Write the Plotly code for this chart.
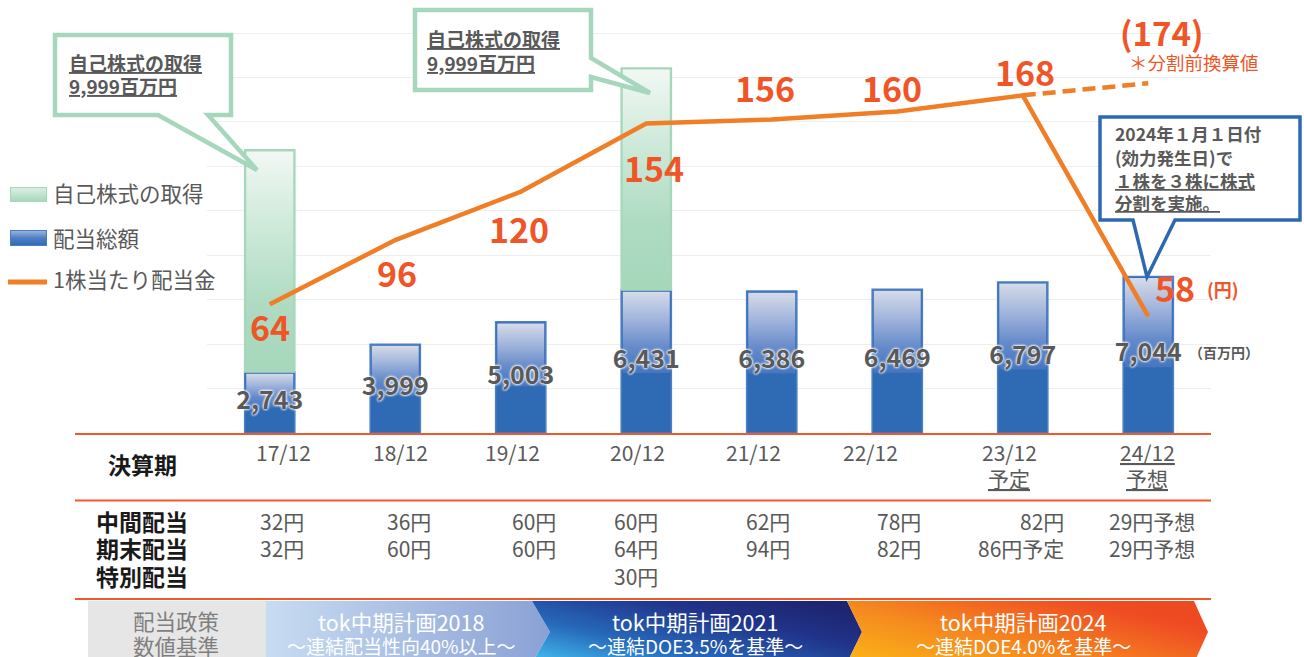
import base64
import plotly.graph_objects as go

W, H = 1304, 657
FONT = "Noto Sans CJK JP"

# ---------------- data ----------------
periods = ['17/12', '18/12', '19/12', '20/12', '21/12', '22/12', '23/12', '24/12']
period_notes = ['', '', '', '', '', '', '予定', '予想']
dividend_total = [2743, 3999, 5003, 6431, 6386, 6469, 6797, 7044]      # 百万円
buyback = [9999, 0, 0, 9999, 0, 0, 0, 0]                                 # 百万円
dps = [64, 96, 120, 154, 156, 160, 168, 58]                              # 円
dps_presplit_24 = 174                                                    # 円（分割前換算）
interim_div = ['32円', '36円', '60円', '60円', '62円', '78円', '82円', '29円予想']
yearend_div = ['32円', '60円', '60円', '64円', '94円', '82円', '86円予定', '29円予想']
special_div = ['', '', '', '30円', '', '', '', '']
legend_labels = ['自己株式の取得', '配当総額', '1株当たり配当金']
row_labels = ['決算期', '中間配当', '期末配当', '特別配当']
policy_label = ['配当政策', '数値基準']
plans = ['tok中期計画2018', 'tok中期計画2021', 'tok中期計画2024']
plan_targets = ['～連結配当性向40%以上～', '～連結DOE3.5%を基準～', '～連結DOE4.0%を基準～']
buyback_note = ['自己株式の取得', '9,999百万円']
split_note = ['2024年１月１日付', '(効力発生日)で', '１株を３株に株式', '分割を実施。']

# ---------------- layout helpers ----------------
def px(x):
    return x / W


def py(y):
    return 1 - y / H


PLOT_L, PLOT_R, PLOT_B = 207, 1211, 433
Y_MAX = PLOT_B / 44.44 * 2000
Y2_MAX = PLOT_B / 2.01
xs = list(range(len(periods)))
BAR_W = 0.4

GRAY = '#595959'
RED = '#f05528'
ORANGE = '#f07e26'
BLUE = '#2f6ab4'


def svg_uri(w, h, defs, body):
    svg = (f"<svg xmlns='http://www.w3.org/2000/svg' width='{w}' height='{h}' "
           f"viewBox='0 0 {w} {h}' preserveAspectRatio='none'><defs>{defs}</defs>{body}</svg>")
    return 'data:image/svg+xml;base64,' + base64.b64encode(svg.encode('utf-8')).decode()


def grad(gid, stops, x1=0, y1=0, x2=1, y2=0):
    s = ''.join(f"<stop offset='{o}' stop-color='{c}'/>" for o, c in stops)
    return f"<linearGradient id='{gid}' x1='{x1}' y1='{y1}' x2='{x2}' y2='{y2}'>{s}</linearGradient>"


def image(uri, x0, y0, x1, y1):
    return dict(source=uri, xref='paper', yref='paper', x=px(x0), y=py(y0),
                sizex=(x1 - x0) / W, sizey=(y1 - y0) / H, xanchor='left', yanchor='top',
                sizing='stretch', layer='above')


def poly(points):
    return 'M ' + ' L '.join(f'{px(x):.5f},{py(y):.5f}' for x, y in points) + ' Z'


fig = go.Figure()

# ---------------- bars ----------------
fig.add_trace(go.Bar(
    x=xs, y=dividend_total, width=BAR_W,
    marker=dict(color=BLUE, line=dict(color='#4c7fc6', width=1.5)),
    hoverinfo='skip', showlegend=False))

bb_x = [i for i, v in enumerate(buyback) if v]
fig.add_trace(go.Bar(
    x=bb_x, y=[buyback[i] for i in bb_x], base=[dividend_total[i] for i in bb_x], width=BAR_W,
    marker=dict(color='#a6d7bb', line=dict(color='#a6d7bb', width=1.5)),
    hoverinfo='skip', showlegend=False))

# gradient overlays (shading of the bars)
dx = 1.6 / 125.5
dy = 1.6 * 2000 / 44.44
blue_cs = [[0, '#4676be'], [0.3, '#6389c9'], [0.65, '#9fb3db'], [1, '#d5dbe8']]
green_cs = [[0, '#a6d7bb'], [0.3, '#aedbc2'], [0.7, '#d2ebdc'], [1, '#f2f8f4']]
for i in xs:
    h = dividend_total[i]
    y0, y1 = h * 0.42, h - dy
    x0, x1 = i - BAR_W / 2 + dx, i + BAR_W / 2 - dx
    fig.add_trace(go.Scatter(
        x=[x0, x1, x1, x0, x0], y=[y0, y0, y1, y1, y0], fill='toself', mode='none',
        fillgradient=dict(type='vertical', colorscale=blue_cs),
        hoverinfo='skip', showlegend=False))
for i in bb_x:
    b, t = dividend_total[i] + dy, dividend_total[i] + buyback[i] - dy
    x0, x1 = i - BAR_W / 2 + dx, i + BAR_W / 2 - dx
    fig.add_trace(go.Scatter(
        x=[x0, x1, x1, x0, x0], y=[b, b, t, t, b], fill='toself', mode='none',
        fillgradient=dict(type='vertical', colorscale=green_cs),
        hoverinfo='skip', showlegend=False))

# bar value labels
fig.add_trace(go.Scatter(
    x=xs, y=[v / 2 for v in dividend_total], mode='text',
    text=[f'{v:,}' for v in dividend_total], textposition='middle center',
    textfont=dict(family=FONT, size=25, color=GRAY, weight='bold',
                  shadow='0px 0px 3px #ffffff, 0px 0px 3px #ffffff, 0px 0px 2px #ffffff'),
    hoverinfo='skip', showlegend=False))

# ---------------- dividend per share line ----------------
fig.add_trace(go.Scatter(
    x=xs, y=dps, yaxis='y2', mode='lines',
    line=dict(color=ORANGE, width=4.5), hoverinfo='skip', showlegend=False))
fig.add_trace(go.Scatter(
    x=[xs[-2], xs[-1]], y=[dps[-2], dps_presplit_24], yaxis='y2', mode='lines',
    line=dict(color=ORANGE, width=4.5, dash='13px,7px'), hoverinfo='skip', showlegend=False))

annotations = []
lab_shift = [(0, -22), (2, -32), (-2, -37), (8, -44), (-7, 32), (-5, 24), (2, 24), (27, 29)]
for i, v in enumerate(dps):
    sx, sy = lab_shift[i]
    annotations.append(dict(x=i, y=v, xref='x', yref='y2', text=str(v), showarrow=False,
                            xshift=sx, yshift=sy, xanchor='center', yanchor='middle',
                            font=dict(family=FONT, size=34, color=RED, weight='bold')))
annotations.append(dict(x=xs[-1], y=dps[-1], xref='x', yref='y2', text='(円)', showarrow=False,
                        xshift=75, yshift=27, font=dict(family=FONT, size=18, color=RED, weight='bold')))
annotations.append(dict(x=xs[-1], y=dps_presplit_24, xref='x', yref='y2', text=f'({dps_presplit_24})',
                        showarrow=False, xshift=13, yshift=51,
                        font=dict(family=FONT, size=33, color=RED, weight='bold')))
annotations.append(dict(x=xs[-1], y=dps_presplit_24, xref='x', yref='y2', text='＊分割前換算値',
                        showarrow=False, xshift=46, yshift=21,
                        font=dict(family=FONT, size=18.5, color=RED)))
annotations.append(dict(x=xs[-1], y=dividend_total[-1] / 2, xref='x', yref='y', text='（百万円）',
                        showarrow=False, xshift=76, yshift=3,
                        font=dict(family=FONT, size=14, color=GRAY, weight='bold')))

# ---------------- shapes / images ----------------
shapes = []
images = []

# legend
images.append(image(svg_uri(37, 15, grad('g', [(0, '#dcf0e4'), (1, '#a6d7bb')], 0, 0, 0, 1),
                            "<rect x='0.5' y='0.5' width='36' height='14' fill='url(#g)' stroke='#a6d7bb'/>"),
                    10, 187, 47, 202))
images.append(image(svg_uri(37, 16, grad('g', [(0, '#9fb6df'), (0.5, '#4f7ec3'), (1, '#2f6ab4')], 0, 0, 0, 1),
                            "<rect x='0.5' y='0.5' width='36' height='15' fill='url(#g)' stroke='#4a7cc4'/>"),
                    10, 230, 47, 246))
shapes.append(dict(type='line', xref='paper', yref='paper', x0=px(8), x1=px(47), y0=py(282), y1=py(282),
                   line=dict(color=ORANGE, width=5)))
for lbl, yy in zip(legend_labels, [192, 237, 278]):
    annotations.append(dict(x=px(51), y=py(yy), xref='paper', yref='paper', text=lbl, showarrow=False,
                            xanchor='left', yanchor='middle', font=dict(family=FONT, size=21.5, color=GRAY)))

# callouts
shapes.append(dict(type='path', xref='paper', yref='paper', layer='above',
                   path=poly([(55, 35), (231, 35), (231, 115), (208, 115), (257, 170), (158, 115), (55, 115)]),
                   fillcolor='white', line=dict(color='#a6d6bb', width=4.5)))
shapes.append(dict(type='path', xref='paper', yref='paper', layer='above',
                   path=poly([(415, 10), (591, 10), (591, 58), (650, 93), (591, 77), (591, 90), (415, 90)]),
                   fillcolor='white', line=dict(color='#a6d6bb', width=4.5)))
shapes.append(dict(type='path', xref='paper', yref='paper', layer='above',
                   path=poly([(1100, 117), (1300, 117), (1300, 220), (1175, 220), (1147, 277), (1133, 220),
                              (1100, 220)]),
                   fillcolor='white', line=dict(color='#2e68b2', width=3.5)))
for (xx, yys) in [(67, [62, 85]), (425, [38, 62])]:
    for t, yy in zip(buyback_note, yys):
        annotations.append(dict(x=px(xx), y=py(yy), xref='paper', yref='paper', text=t, showarrow=False,
                                xanchor='left', yanchor='middle',
                                font=dict(family=FONT, size=19, color=GRAY, weight='bold', lineposition='under')))
for k, (t, yy) in enumerate(zip(split_note, [133, 157, 180, 202])):
    annotations.append(dict(x=px(1113), y=py(yy), xref='paper', yref='paper', text=t, showarrow=False,
                            xanchor='left', yanchor='middle',
                            font=dict(family=FONT, size=17.5, color=GRAY, weight='bold',
                                      lineposition='under' if k >= 2 else 'none')))

# table lines
for yy in [434, 500.5, 599]:
    shapes.append(dict(type='line', xref='paper', yref='paper', x0=px(75), x1=px(1211), y0=py(yy), y1=py(yy),
                       line=dict(color='#f05a2a', width=2.2), layer='above'))

# table text
row_y = [464, 521, 548, 576]
for lbl, yy in zip(row_labels, row_y):
    annotations.append(dict(x=px(142), y=py(yy), xref='paper', yref='paper', text=lbl, showarrow=False,
                            xanchor='center', yanchor='middle',
                            font=dict(family=FONT, size=23, color='#1a1a1a', weight='bold')))
period_x = [283, 400, 512, 637, 753, 870, 1009, 1147]
for i, (p, n) in enumerate(zip(periods, period_notes)):
    annotations.append(dict(x=px(period_x[i]), y=py(452), xref='paper', yref='paper', text=p, showarrow=False,
                            xanchor='center', yanchor='middle',
                            font=dict(family=FONT, size=21, color=GRAY,
                                      lineposition='under' if i == len(periods) - 1 else 'none')))
    if n:
        annotations.append(dict(x=px(period_x[i]), y=py(478), xref='paper', yref='paper', text=n,
                                showarrow=False, xanchor='center', yanchor='middle',
                                font=dict(family=FONT, size=21, color=GRAY, lineposition='under')))
value_right = [306, 433, 558, 660, 792, 923, 1066, 1197]
for i in xs:
    for vals, yy in [(interim_div, 521), (yearend_div, 548), (special_div, 576)]:
        if vals[i]:
            annotations.append(dict(x=px(value_right[i]), y=py(yy), xref='paper', yref='paper', text=vals[i],
                                    showarrow=False, xanchor='right', yanchor='middle',
                                    font=dict(family=FONT, size=21, color=GRAY)))

# policy band
shapes.append(dict(type='rect', xref='paper', yref='paper', x0=px(88), x1=px(266), y0=py(601), y1=py(663),
                   fillcolor='#e7e6e6', line=dict(width=0), layer='above'))
ox, oy = 266, 601
bands = [
    [(266, 601), (532, 601), (550, 632), (532, 663), (266, 663)],
    [(532, 601), (847, 601), (862, 632), (847, 663), (532, 663), (550, 632)],
    [(847, 601), (1194, 601), (1208, 632), (1194, 663), (847, 663), (862, 632)],
]
defs = (grad('b1', [(0, '#c8dcf1'), (1, '#8aa1d5')]) +
        grad('b2', [(0, '#42c2f2'), (0.35, '#2769ba'), (0.72, '#20348a'), (1, '#1e2470')], 0, 1, 1, 0.2) +
        grad('b3', [(0, '#fbb617'), (0.45, '#f5881f'), (0.9, '#ef4c23'), (1, '#ee4a22')], 0, 1, 1, 0.3))
body = ''
for k, pts in enumerate(bands):
    pstr = ' '.join(f'{x - ox},{y - oy}' for x, y in pts)
    body += f"<polygon points='{pstr}' fill='url(#b{k + 1})'/>"
images.append(image(svg_uri(946, 62, defs, body), 266, 601, 1212, 663))

for t, yy in zip(policy_label, [620, 645]):
    annotations.append(dict(x=px(176), y=py(yy), xref='paper', yref='paper', text=t, showarrow=False,
                            xanchor='center', yanchor='middle', font=dict(family=FONT, size=21.5, color='#7f7f7f')))
plan_x = [401, 695, 1023]
for k in range(3):
    annotations.append(dict(x=px(plan_x[k]), y=py(621), xref='paper', yref='paper', text=plans[k],
                            showarrow=False, xanchor='center', yanchor='middle',
                            font=dict(family=FONT, size=21.5, color='white')))
    annotations.append(dict(x=px(plan_x[k]), y=py(645), xref='paper', yref='paper', text=plan_targets[k],
                            showarrow=False, xanchor='center', yanchor='middle',
                            font=dict(family=FONT, size=19, color='white')))

fig.update_layout(
    width=W, height=H, margin=dict(l=0, r=0, t=0, b=0),
    paper_bgcolor='white', plot_bgcolor='white',
    barmode='overlay', showlegend=False,
    xaxis=dict(domain=[px(PLOT_L), px(PLOT_R)], range=[-0.5, len(periods) - 0.5],
               showgrid=False, zeroline=False, showticklabels=False, ticks='', fixedrange=True),
    yaxis=dict(domain=[py(PLOT_B), 1], range=[0, Y_MAX], dtick=2000, tick0=0,
               showgrid=True, gridcolor='#eeeeee', gridwidth=1, zeroline=False,
               showticklabels=False, ticks='', fixedrange=True),
    yaxis2=dict(overlaying='y', range=[0, Y2_MAX], showgrid=False, zeroline=False,
                showticklabels=False, ticks='', fixedrange=True, visible=False),
    shapes=shapes, images=images, annotations=annotations,
    font=dict(family=FONT),
)

fig.write_html("out.html", config={'displayModeBar': False},
               post_script="document.body.style.margin='0px';document.body.style.overflow='hidden';")
